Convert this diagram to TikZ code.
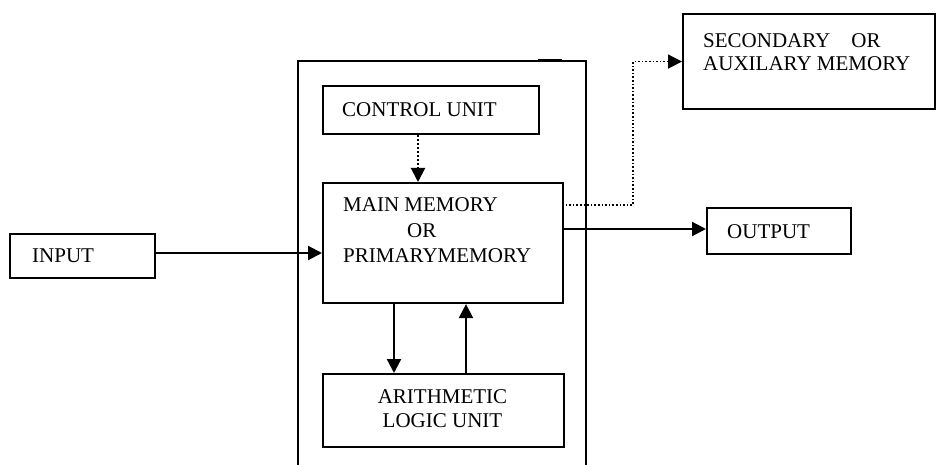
\documentclass[tikz,border=0pt]{standalone}
\usepackage{fontspec}
\setmainfont{Liberation Serif}
\usetikzlibrary{arrows.meta}
\begin{document}
\begin{tikzpicture}[x=1pt,y=-1pt,
  box/.style={draw, line width=2.1pt, rectangle, inner sep=0pt, anchor=north west},
  lbl/.style={inner sep=0pt, anchor=base west, font=\fontsize{21}{25}\selectfont},
  arr/.style={line width=2.2pt, -{Triangle[length=14pt,width=14pt]}},
  dotarr/.style={line width=2pt, dash pattern=on 2pt off 2pt, -{Triangle[length=14pt,width=14pt]}},
  dotline/.style={line width=1.6pt, dash pattern=on 1.6pt off 2pt, -{Triangle[length=14pt,width=14pt]}}]
\useasboundingbox (0,0) rectangle (937,465);

% processor enclosure, open at the bottom
\draw[line width=2.1pt] (298,470) -- (298,61) -- (586,61) -- (586,470);
\draw[line width=3pt] (538,61) -- (562,61);

% blocks
\node[box, minimum width=216pt, minimum height=48pt] (cu) at (322,85) {};
\node[box, minimum width=240pt, minimum height=120pt] (mm) at (322,182) {};
\node[box, minimum width=241pt, minimum height=73pt] (alu) at (322,373) {};
\node[box, minimum width=145pt, minimum height=44pt] (in) at (9,233) {};
\node[box, minimum width=144pt, minimum height=46pt] (out) at (706,207) {};
\node[box, minimum width=252pt, minimum height=95pt] (sec) at (682,13) {};

% labels
\node[lbl] (cut) at (342,117) {CONTROL UNIT};
\node[lbl] (mm1) at (343,212) {MAIN MEMORY};
\node[lbl] (mm2) at (407,237) {OR};
\node[lbl] (mm3) at (343,262) {PRIMARYMEMORY};
\node[lbl, anchor=base] (alu1) at (442.5,403) {ARITHMETIC};
\node[lbl, anchor=base] (alu2) at (442.5,427) {LOGIC UNIT};
\node[lbl] (int) at (32,262) {INPUT};
\node[lbl] (outt) at (727,238) {OUTPUT};
\node[lbl] (sec1) at (703,48) {SECONDARY\hspace{1em}OR};
\node[lbl] (sec2) at (703,71) {AUXILARY MEMORY};

% routing helpers
\coordinate (cux) at (418,0);
\coordinate (dnx) at (394,0);
\coordinate (upx) at (466,0);
\coordinate (tap) at (562,205);
\coordinate (bend) at (633,0);
\coordinate (iny) at (0,253);
\coordinate (outy) at (0,229);

% connectors
\draw[dotarr] (cu.south -| cux) -- (mm.north -| cux);
\draw[arr] (mm.south -| dnx) -- (alu.north -| dnx);
\draw[arr] (alu.north -| upx) -- (mm.south -| upx);
\draw[arr] (in.east |- iny) -- (mm.west |- iny);
\draw[arr] (mm.east |- outy) -- (out.west |- outy);
\draw[dotline] (tap) -| (bend |- sec.west) -- (sec.west);
\end{tikzpicture}
\end{document}
